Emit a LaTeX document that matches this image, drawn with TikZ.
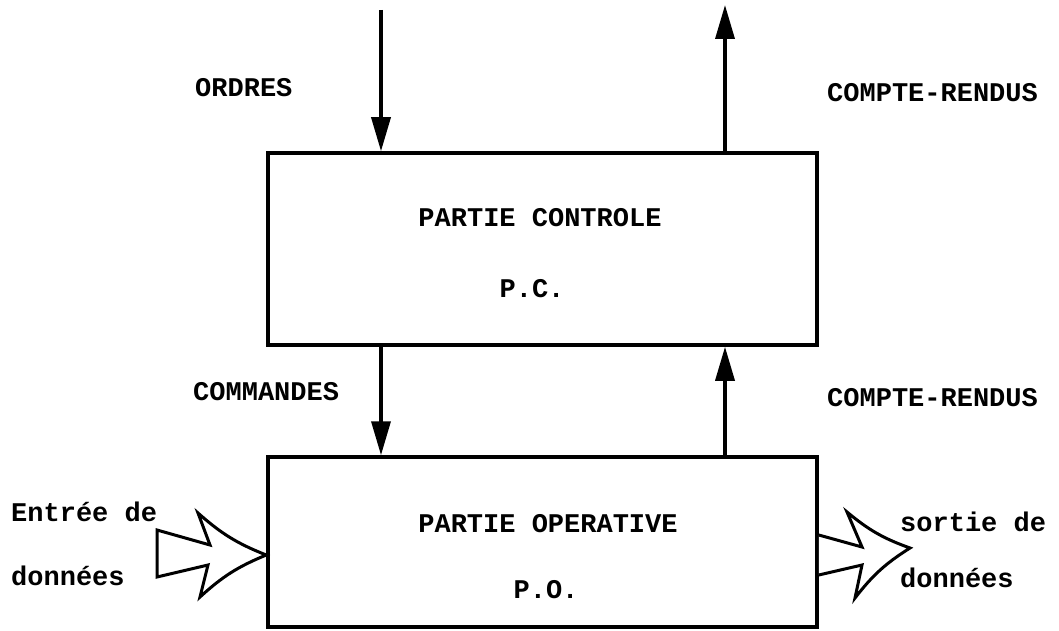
\documentclass[tikz,border=0pt]{standalone}
\usepackage{fontspec}
\setmonofont{Liberation Mono}
\usetikzlibrary{arrows.meta}
\begin{document}
\begin{tikzpicture}[x=1pt,y=-1pt,
  lbl/.style={font=\ttfamily\bfseries\fontsize{27}{31}\selectfont, inner sep=0pt},
  blk/.style={draw, line width=3.5pt, minimum width=549pt, inner sep=0pt},
  arr/.style={line width=3.5pt, -{Triangle[width=19pt,length=34pt]}},
  hollow/.style={draw, line width=3pt, fill=white, line join=miter}]
\useasboundingbox (0,0) rectangle (1059,631);
% blocks
\node[blk, minimum height=192pt] (pc) at (542.5,249) {};
\node[blk, minimum height=170pt] (po) at (542.5,542) {};
% texts in blocks
\node[lbl] (pct) at (540,218) {PARTIE CONTROLE};
\node[lbl] (pcs) at (532,289) {P.C.};
\node[lbl] (pot) at (548,524) {PARTIE OPERATIVE};
\node[lbl] (pos) at (546,590) {P.O.};
% labels
\node[lbl, anchor=west] (ord) at (195,88) {ORDRES};
\node[lbl, anchor=west] (cr1) at (827,93) {COMPTE-RENDUS};
\node[lbl, anchor=west] (com) at (193,392) {COMMANDES};
\node[lbl, anchor=west] (cr2) at (827,398) {COMPTE-RENDUS};
\node[lbl, anchor=west] (ent) at (11,512) {Entrée de};
\node[lbl, anchor=west] (don1) at (11,576) {données};
\node[lbl, anchor=west] (sor) at (900,522) {sortie de};
\node[lbl, anchor=west] (don2) at (900,578) {données};
% vertical arrows
\coordinate (ordtop) at (381,10);
\coordinate (crtop) at (725,5);
\draw[arr] (ordtop) -- (ordtop |- pc.north);
\draw[arr] (crtop |- pc.north) -- (crtop);
\draw[arr] (ordtop |- pc.south) -- (ordtop |- po.north);
\draw[arr] (crtop |- po.north) -- (crtop |- pc.south);
% hollow arrows
\coordinate (inTip) at (po.west |- 0,555);
\draw[hollow] (157,530) -- (210,545) -- (198,513)
  to[bend right=10] (inTip) to[bend right=10] (200,597)
  -- (208,565) -- (157,577) -- cycle;
\coordinate (outBase) at (po.east |- 0,535);
\draw[hollow] (outBase) -- (862,547) -- (847,512)
  to[bend right=10] (910,548) to[bend right=10] (855,598)
  -- (862,565) -- (po.east |- 0,575);
\end{tikzpicture}
\end{document}
